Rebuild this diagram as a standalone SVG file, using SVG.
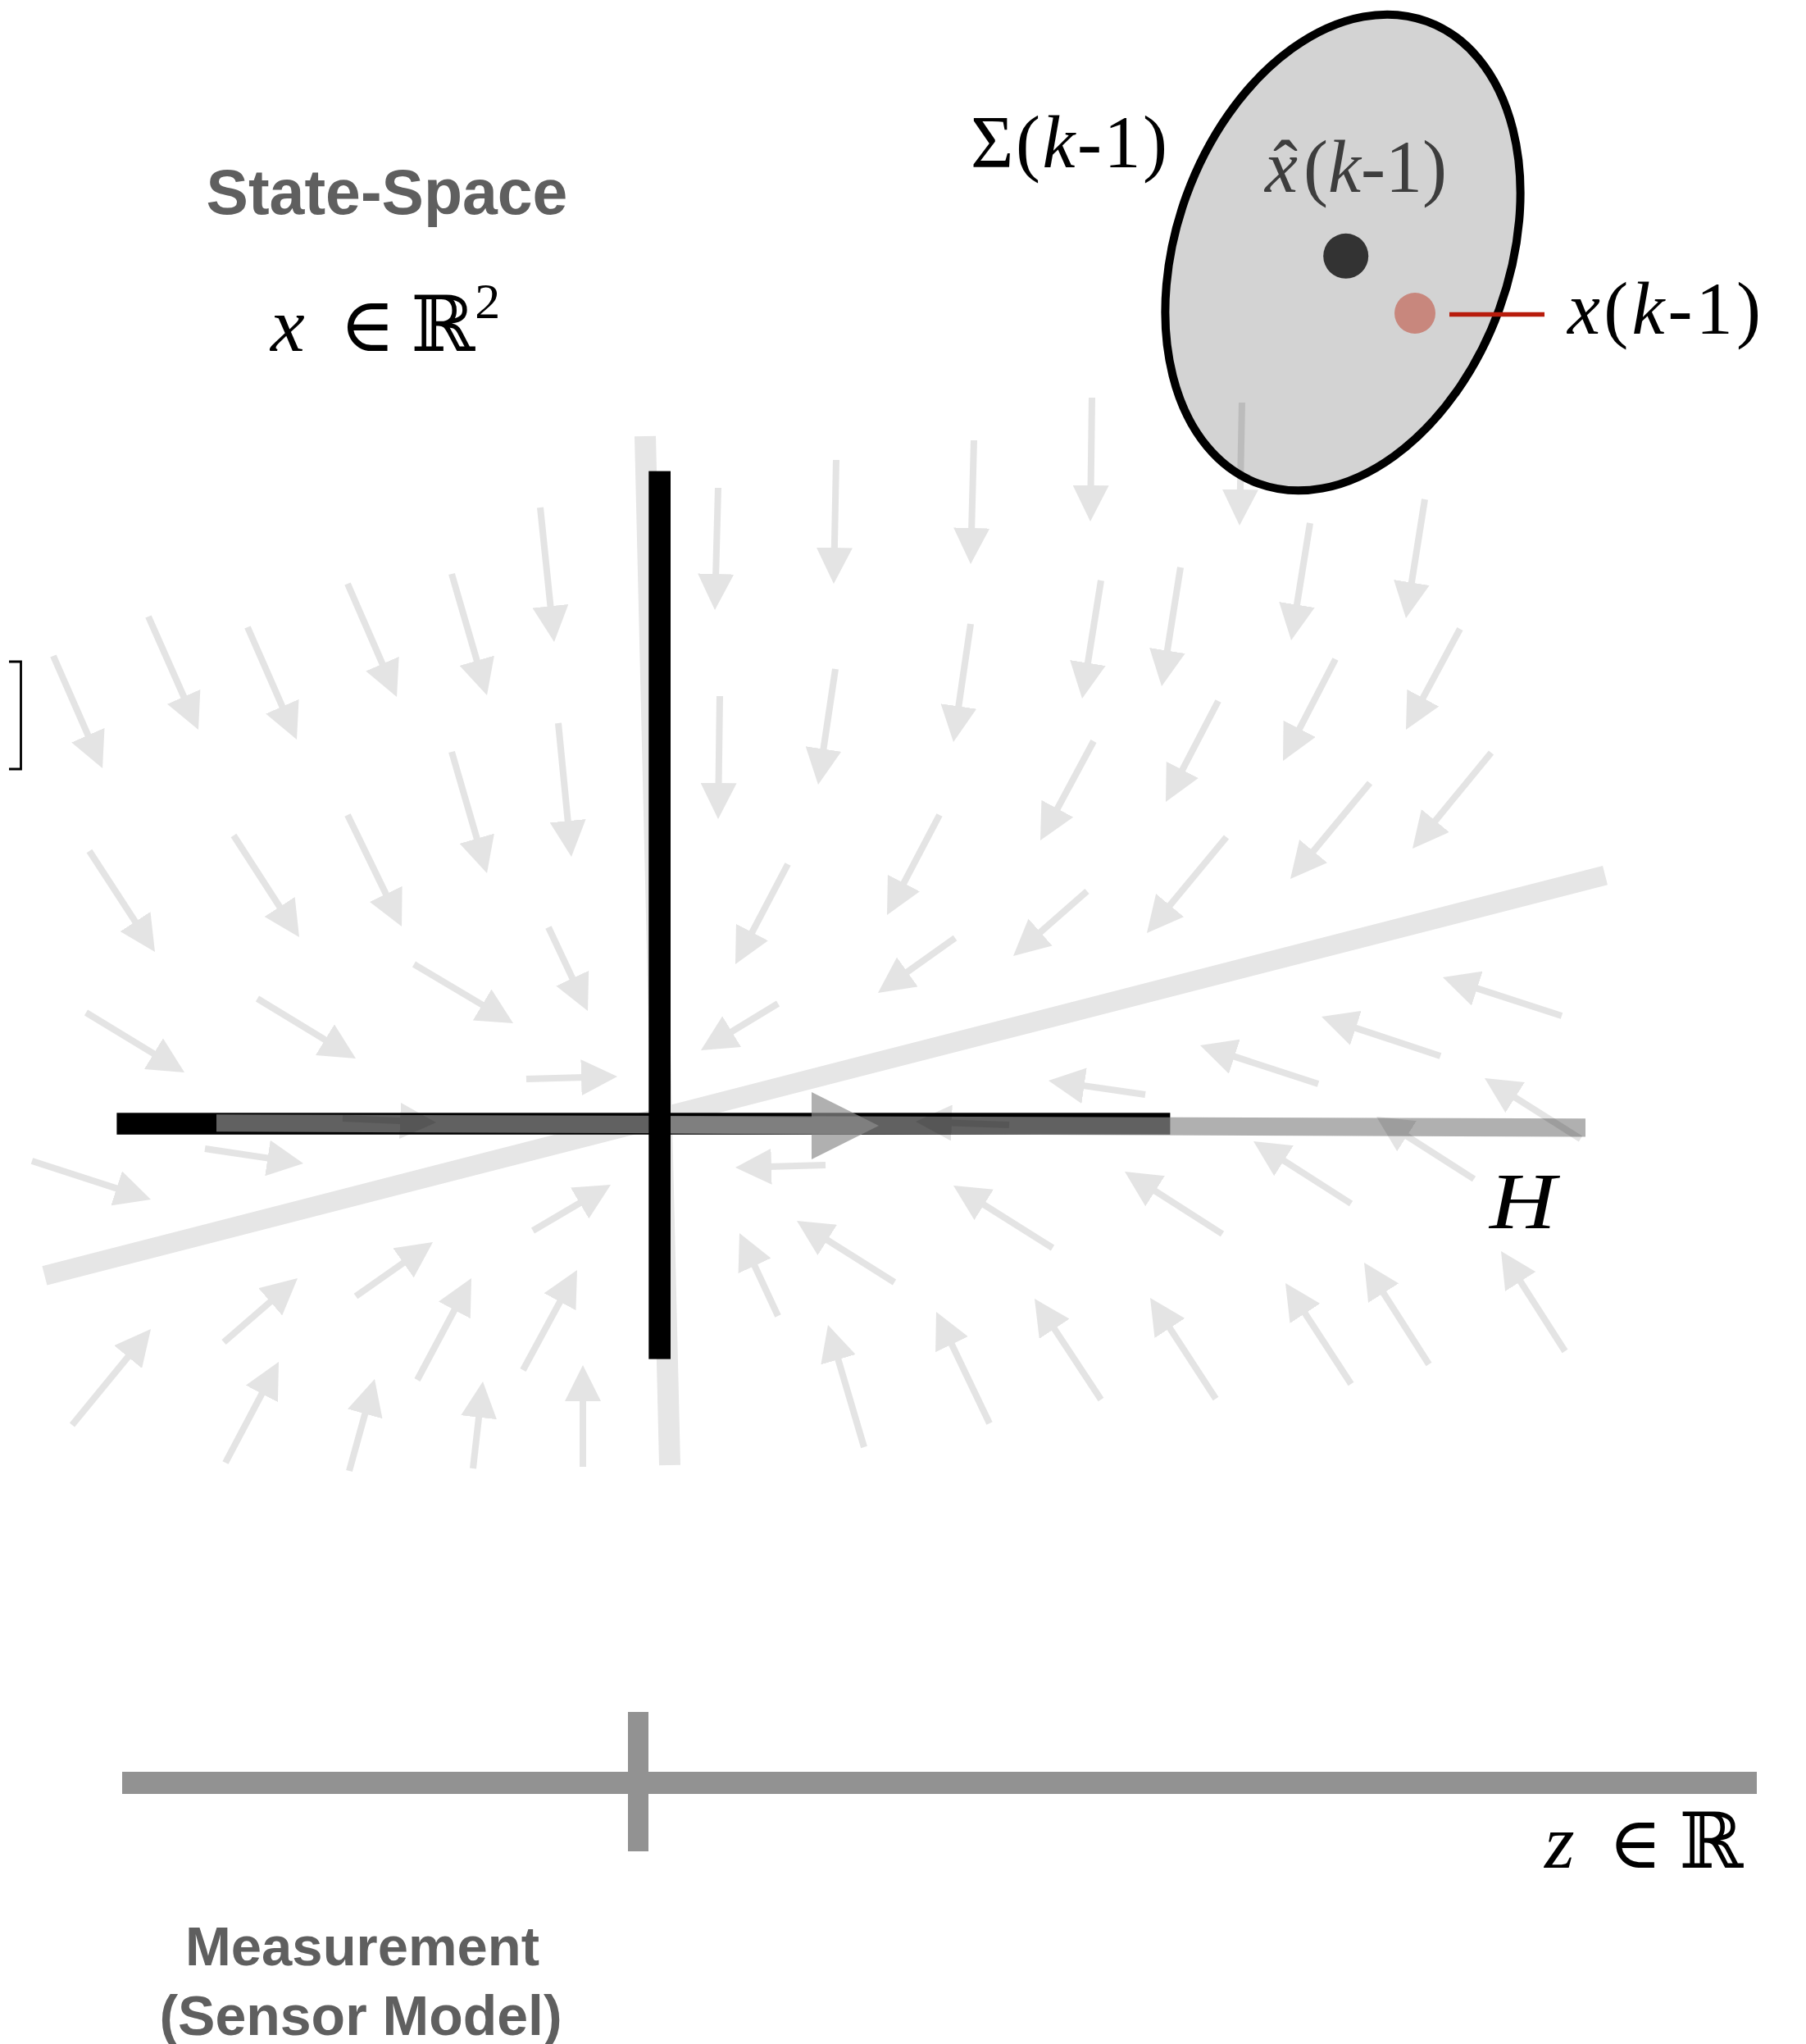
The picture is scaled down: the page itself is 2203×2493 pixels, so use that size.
<svg xmlns="http://www.w3.org/2000/svg" width="2203" height="2493" viewBox="0 0 2203 2493">
<style>
.title{font-family:"Liberation Sans",Arial,sans-serif;font-weight:bold;fill:#5f5f5f;text-anchor:middle}
.m{font-family:"Liberation Serif","DejaVu Serif",serif;fill:#000}
.sym{font-family:"DejaVu Serif","DejaVu Sans",serif;fill:#000}
.i{font-style:italic}
.faint{stroke:#e6e6e6;fill:none;stroke-linecap:butt}
.vf path{stroke:#000;stroke-width:8;fill:none;stroke-dasharray:80 100;marker-end:url(#ah)}
</style>
<defs>
<marker id="ah" markerUnits="userSpaceOnUse" orient="auto" markerWidth="44" markerHeight="44" viewBox="0 0 44 44" refX="44" refY="22">
<path d="M0 0L44 22L0 44z" fill="#000"/>
</marker>
</defs>
<rect width="2203" height="2493" fill="#fff"/>

<g id="title-state-space">
<text class="title" x="472" y="261" font-size="77">State-Space</text>
<text class="m i" x="330" y="428" font-size="94">x</text>
<text class="sym" x="414" y="428" font-size="92">∈</text>
<text class="sym" x="501" y="428" font-size="94">ℝ<tspan font-size="62" dy="-40" font-family="Liberation Serif">2</tspan></text>
</g>

<g id="matrix-bracket">
<polyline points="11,807 25.5,807 25.5,938 11,938" fill="none" stroke="#000" stroke-width="2.8"/>
</g>

<g id="guide-lines">
<line class="faint" x1="54.4" y1="1555.8" x2="1958" y2="1067.6" stroke-width="24"/>
<line class="faint" x1="787" y1="532" x2="817" y2="1787" stroke-width="26"/>
</g>

<g id="state-axes">
<rect id="axis-x" x="142.4" y="1357.3" width="1285" height="26.5" fill="#000"/>
<polygon id="h-projection-bar" points="264,1359.3 1934,1364.3 1934,1386.6 264,1380.2" fill="#8d8d8d" fill-opacity="0.69"/>
<polygon id="h-arrow" points="805,1361.5 990,1362.5 990,1332 1072,1373 990,1414 990,1383.5 805,1382.5" fill="#8d8d8d" fill-opacity="0.69"/>
<rect id="axis-y" x="791.3" y="574.6" width="26.7" height="1083" fill="#000"/>
<text class="m i" x="1817" y="1498" font-size="98" textLength="81" lengthAdjust="spacingAndGlyphs">H</text>
</g>

<g id="covariance-ellipse">
<ellipse cx="1638" cy="308" rx="203" ry="300" transform="rotate(20 1638 308)" fill="#d3d3d3" stroke="#000" stroke-width="10"/>
<circle cx="1641.7" cy="312.3" r="27.5" fill="#333"/>
<circle cx="1726" cy="382" r="25" fill="#c8877d"/>
<line x1="1768" y1="383.5" x2="1884" y2="383.5" stroke="#b81c0c" stroke-width="5.5"/>
<text class="m" x="1184" y="204" font-size="90" textLength="240">Σ(<tspan class="i">k</tspan>-1)</text>
<text class="m" y="234" font-size="90" style="fill:#3d3d3d"><tspan class="i" x="1543">x</tspan><tspan x="1553">ˆ</tspan><tspan x="1590">(</tspan><tspan class="i">k</tspan>-1)</text>
<text class="m" x="1912" y="407" font-size="90" textLength="236"><tspan class="i">x</tspan>(<tspan class="i">k</tspan>-1)</text>
</g>

<g id="vector-field" class="vf" opacity="0.1">
<path pathLength="100" d="M65 800L125 937"/>
<path pathLength="100" d="M181 752L242 890"/>
<path pathLength="100" d="M302 765L362 902"/>
<path pathLength="100" d="M424 712L484 850"/>
<path pathLength="100" d="M551 700L594 848"/>
<path pathLength="100" d="M659 619L676 783"/>
<path pathLength="100" d="M876 595L872 744"/>
<path pathLength="100" d="M1020 561L1017 712"/>
<path pathLength="100" d="M109 1038L189 1161"/>
<path pathLength="100" d="M285 1019L365 1143"/>
<path pathLength="100" d="M424 994L490 1130"/>
<path pathLength="100" d="M551 917L594 1065"/>
<path pathLength="100" d="M681 882L697 1045"/>
<path pathLength="100" d="M878 849L876 999"/>
<path pathLength="100" d="M1019 816L998 957"/>
<path pathLength="100" d="M105 1235L225 1308"/>
<path pathLength="100" d="M314 1218L434 1291"/>
<path pathLength="100" d="M505 1176L626 1248"/>
<path pathLength="100" d="M669 1131L717 1233"/>
<path pathLength="100" d="M961 1054L897 1176"/>
<path pathLength="100" d="M949 1224L855 1281"/>
<path pathLength="100" d="M642 1316L753 1313"/>
<path pathLength="100" d="M1188 537L1184 688"/>
<path pathLength="100" d="M1332 485L1330 636"/>
<path pathLength="100" d="M1515 491L1512 641"/>
<path pathLength="100" d="M1184 761L1163 905"/>
<path pathLength="100" d="M1343 708L1320 852"/>
<path pathLength="100" d="M1440 692L1417 837"/>
<path pathLength="100" d="M1598 638L1575 781"/>
<path pathLength="100" d="M1738 609L1715 754"/>
<path pathLength="100" d="M1146 994L1082 1116"/>
<path pathLength="100" d="M1334 904L1269 1025"/>
<path pathLength="100" d="M1486 855L1422 978"/>
<path pathLength="100" d="M1629 804L1565 928"/>
<path pathLength="100" d="M1781 767L1715 890"/>
<path pathLength="100" d="M1165 1144L1071 1211"/>
<path pathLength="100" d="M1326 1087L1236 1166"/>
<path pathLength="100" d="M1496 1021L1399 1138"/>
<path pathLength="100" d="M1671 955L1574 1072"/>
<path pathLength="100" d="M1819 918L1723 1035"/>
<path pathLength="100" d="M1905 1239L1760 1192"/>
<path pathLength="100" d="M1757 1288L1612 1240"/>
<path pathLength="100" d="M1608 1322L1464 1275"/>
<path pathLength="100" d="M1397 1335L1279 1318"/>
<path pathLength="100" d="M1928 1389L1811 1315"/>
<path pathLength="100" d="M1798 1438L1679 1362"/>
<path pathLength="100" d="M1648 1468L1529 1392"/>
<path pathLength="100" d="M1491 1505L1372 1429"/>
<path pathLength="100" d="M1284 1522L1163 1446"/>
<path pathLength="100" d="M1091 1564L972 1489"/>
<path pathLength="100" d="M1909 1648L1831 1526"/>
<path pathLength="100" d="M1743 1664L1664 1540"/>
<path pathLength="100" d="M1648 1688L1568 1565"/>
<path pathLength="100" d="M1483 1706L1403 1583"/>
<path pathLength="100" d="M1343 1707L1262 1584"/>
<path pathLength="100" d="M1207 1736L1142 1600"/>
<path pathLength="100" d="M1054 1765L1010 1616"/>
<path pathLength="100" d="M1231 1372L1117 1368"/>
<path pathLength="100" d="M418 1364L532 1369"/>
<path pathLength="100" d="M250 1401L370 1419"/>
<path pathLength="100" d="M39 1416L184 1463"/>
<path pathLength="100" d="M1007 1421L897 1424"/>
<path pathLength="100" d="M650 1501L745 1445"/>
<path pathLength="100" d="M434 1581L528 1515"/>
<path pathLength="100" d="M273 1637L363 1559"/>
<path pathLength="100" d="M88 1738L184 1621"/>
<path pathLength="100" d="M275 1784L340 1661"/>
<path pathLength="100" d="M426 1794L457 1682"/>
<path pathLength="100" d="M577 1791L589 1685"/>
<path pathLength="100" d="M711 1789L711 1665"/>
<path pathLength="100" d="M509 1683L575 1559"/>
<path pathLength="100" d="M638 1671L704 1549"/>
<path pathLength="100" d="M949 1605L902 1504"/>
</g>

<g id="measurement-axis">
<rect x="149" y="2161" width="1994" height="27" fill="#929292"/>
<rect x="766" y="2088" width="25" height="170" fill="#929292"/>
<text class="m i" x="1884" y="2278" font-size="94">z</text>
<text class="sym" x="1962" y="2278" font-size="88">∈</text>
<text class="sym" x="2048" y="2278" font-size="94">ℝ</text>
</g>

<g id="title-measurement">
<text class="title" x="442" y="2397" font-size="67">Measurement</text>
<text class="title" x="440" y="2482" font-size="68">(Sensor Model)</text>
</g>
</svg>
